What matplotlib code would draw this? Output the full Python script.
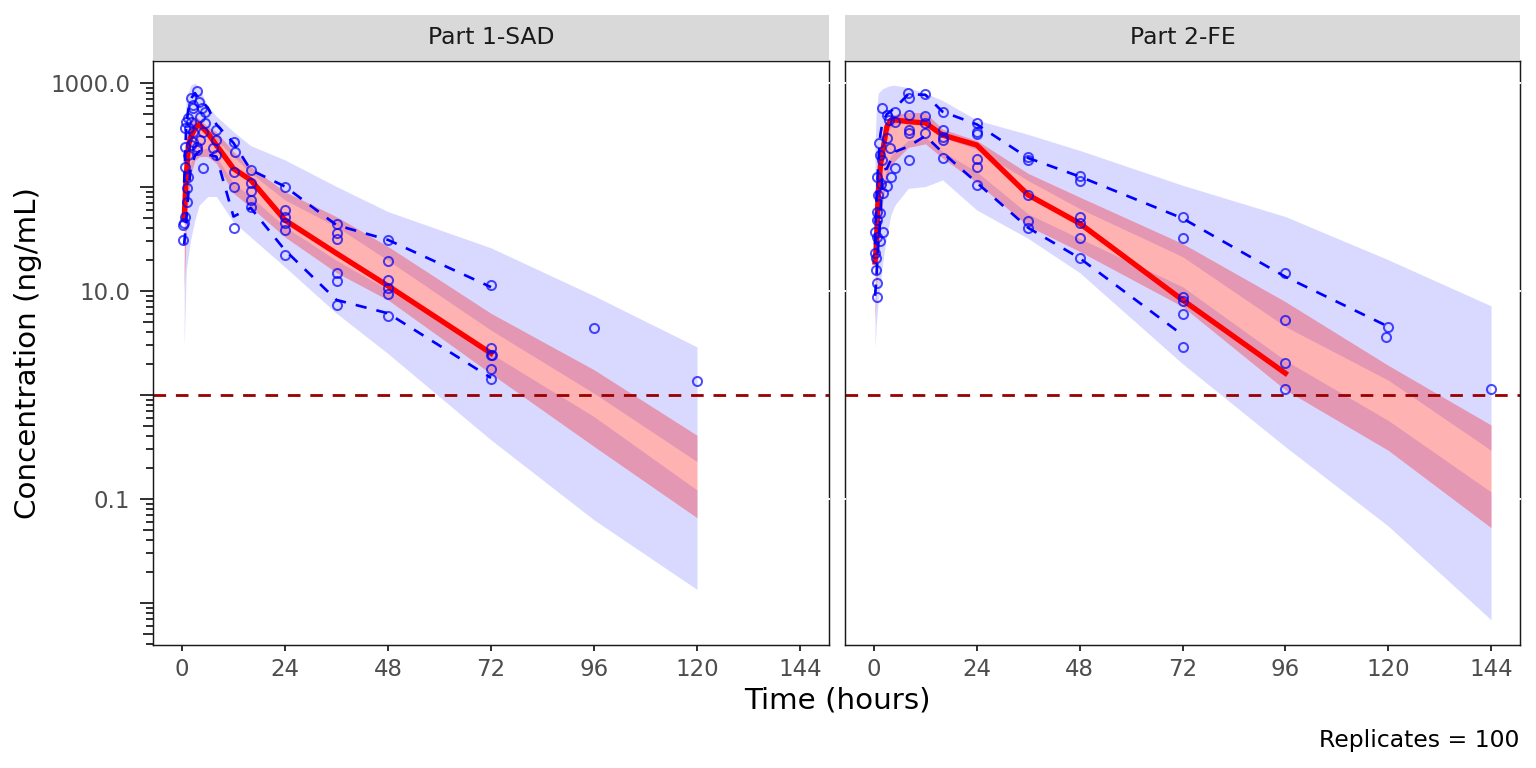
import matplotlib
matplotlib.use("Agg")
import matplotlib.pyplot as plt
from matplotlib.patches import Rectangle
from matplotlib.ticker import FixedLocator, FixedFormatter, NullFormatter

plt.rcParams['font.family'] = ['DejaVu Sans']

# ---------------- data ----------------
panel_titles = ["Part 1-SAD", "Part 2-FE"]
lloq = 1.0
x_ticks = [0, 24, 48, 72, 96, 120, 144]
y_major = [0.01, 0.1, 1, 10, 100, 1000]
y_major_labels = ["", "0.1", "", "10.0", "", "1000.0"]

# Part 1-SAD observed concentrations
sad_obs_time = [3.4, 2.0, 4.0, 2.6, 4.6, 5.4, 1.5, 0.9, 2.0, 4.2, 0.7, 1.7, 5.4, 2.6, 5.0, 8.0,
                4.2, 0.7, 2.0, 3.4, 7.3, 8.0, 1.5, 8.0, 5.0, 0.7, 1.5, 1.1, 1.25, 0.7, 0.3, 0.3,
                0.5, 2.6, 3.4, 2.5,
                12, 12.3, 12, 12.2, 12,
                16, 16, 16, 16, 16,
                24, 24, 24, 24, 24, 24,
                36, 36, 36, 36, 36, 36,
                48, 48, 48, 48, 48, 48,
                72, 72, 72, 72.2, 72, 72,
                96, 120]
sad_obs_conc = [837, 722, 661, 571, 571, 530, 464, 425, 425, 474, 372, 367, 410, 340, 340, 353,
                283, 244, 253, 244, 236, 283, 203, 203, 153, 157, 126, 97, 72, 52, 43, 31,
                45, 273, 227, 614,
                273, 219, 140, 101, 40,
                146, 110, 92, 75, 63.8,
                101, 60.1, 51.1, 44.8, 38.6, 22.2,
                44.1, 35.9, 31.4, 15.0, 12.6, 7.33,
                30.9, 19.5, 12.8, 10.8, 9.36, 5.75,
                11.4, 2.81, 2.43, 2.45, 1.77, 1.43,
                4.40, 1.36]

# Part 1-SAD observed percentiles
sad_line_time = [0.5, 1, 1.5, 2, 3, 4, 6, 8, 12, 16, 24, 36, 48, 72]
sad_obs_p50 = [50, 130, 250, 300, 365, 400, 330, 253, 150, 117, 48, 23, 11.2, 2.52]
sad_obs_p95 = [110, 400, 560, 700, 800, 700, 580, 400, 265, 146, 101, 43, 31, 10.9]
sad_obs_p05 = [28, 48, 90, 150, 200, 220, 205, 196, 52, 63, 24.7, 8.2, 6.1, 1.46]

# Part 1-SAD simulated confidence bands
sad_band_time = [0.5, 1, 2, 3, 4, 6, 8, 12, 16, 24, 36, 48, 72, 96, 120]
sad_p95_hi = [350, 700, 950, 1000, 900, 600, 480, 340, 250, 182, 101, 58, 26, 9.0, 2.9]
sad_p95_lo = [80, 200, 330, 380, 380, 340, 283, 196, 136, 75, 41.5, 19.7, 4.2, 1.04, 0.229]
sad_p50_hi = [130, 300, 450, 480, 450, 380, 340, 219, 157, 90, 51.8, 26.8, 6.1, 1.75, 0.41]
sad_p50_lo = [10, 45, 130, 180, 196, 196, 169, 87, 64, 33, 15, 8.2, 1.6, 0.32, 0.066]
sad_p05_hi = [18, 70, 170, 220, 230, 236, 196, 109, 81, 41.5, 19.7, 10.3, 2.5, 0.62, 0.122]
sad_p05_lo = [2.9, 16, 31, 48, 67, 81, 81, 46, 33, 17, 6.1, 2.5, 0.37, 0.063, 0.0135]

# Part 2-FE observed concentrations
fe_obs_time = [7.9, 12.0, 8.1, 1.9, 5.0, 3.0, 3.4, 5.0, 8.1, 11.8, 8.1, 8.1, 11.8, 11.8, 8.1,
               1.2, 3.0, 1.5, 3.8, 1.9, 5.0, 4.0, 3.0, 0.7, 0.9, 2.0, 0.7, 1.5, 0.7, 0.3, 2.0,
               0.7, 1.5, 0.17, 0.5, 0.5, 0.7, 0.7, 1.7,
               16, 16, 16, 16, 16,
               24, 24, 24, 24, 24, 24,
               36, 36, 36, 36, 36,
               48, 48, 48, 48, 48, 48,
               72, 72, 72, 72, 72, 72,
               96, 96, 96, 96,
               120, 119.6, 144]
fe_obs_conc = [796, 784, 713, 571, 530, 493, 441, 425, 493, 482, 353, 328, 410, 328, 182,
               263, 294, 203, 236, 182, 151, 124, 102, 125, 84, 87, 58, 56, 48, 37, 37,
               33, 30, 23, 20.6, 15.9, 11.9, 8.8, 108,
               530, 353, 305, 283, 189,
               415, 340, 323, 185, 157, 105,
               196, 182, 84, 47.5, 40,
               128, 115, 51.8, 44.8, 32, 20.7,
               51.8, 32, 8.8, 8.0, 6.0, 2.9,
               14.8, 5.3, 2.05, 1.15,
               4.55, 3.6, 1.15]

# Part 2-FE observed percentiles
fe_line_time = [0.25, 0.5, 1, 1.5, 2, 3, 4, 5, 8, 12, 16, 24, 36, 48, 72, 96, 120]
fe_obs_p50 = [19, 25, 87, 160, 218, 380, 441, 441, 425, 413, 316, 253, 83.8, 44.7, 8.2, 1.62]
fe_obs_p95 = [28, 60, 170, 320, 420, 500, 540, 580, 780, 770, 530, 400, 190, 126, 50, 13.7, 4.55]
fe_obs_p05 = [9, 12, 28, 50, 146, 150, 185, 219, 245, 310, 215, 110, 40.5, 20.7, 3.78]

# Part 2-FE simulated confidence bands
fe_band_time = [0.25, 0.5, 1, 2, 3, 4, 5, 8, 12, 16, 24, 36, 48, 72, 96, 120, 144]
fe_p95_hi = [250, 500, 800, 880, 920, 950, 950, 900, 800, 680, 440, 320, 225, 104, 52, 20, 7.2]
fe_p95_lo = [18, 30, 80, 220, 330, 380, 400, 430, 440, 300, 230, 115, 62, 21.4, 4.55, 1.39, 0.294]
fe_p50_hi = [25, 45, 130, 300, 420, 480, 500, 520, 520, 360, 280, 135, 80, 28.6, 7.9, 1.93, 0.515]
fe_p50_lo = [5, 9, 22, 70, 120, 160, 180, 240, 260, 190, 110, 42, 24, 7.1, 1.12, 0.294, 0.053]
fe_p05_hi = [8, 12, 30, 90, 160, 200, 220, 280, 300, 220, 140, 55, 32, 11.0, 2.15, 0.57, 0.117]
fe_p05_lo = [2.8, 4.5, 8, 18, 35, 55, 68, 97, 101, 117, 60, 32, 15, 2.0, 0.318, 0.055, 0.0069]

# ---------------- figure ----------------
W, H = 1536, 768
fig = plt.figure(figsize=(8, 4), dpi=192)

xlim = (-6.76, 150.76)
ylim = (10 ** -2.404, 10 ** 3.2115)

ax_l = fig.add_axes([153 / W, 1 - 645 / H, 676 / W, 584 / H])
ax_r = fig.add_axes([845 / W, 1 - 645 / H, 675 / W, 584 / H])

panels = [
    (ax_l, sad_band_time, sad_p95_hi, sad_p95_lo, sad_p50_hi, sad_p50_lo, sad_p05_hi, sad_p05_lo,
     sad_obs_time, sad_obs_conc, sad_line_time, sad_obs_p50, sad_obs_p95, sad_obs_p05),
    (ax_r, fe_band_time, fe_p95_hi, fe_p95_lo, fe_p50_hi, fe_p50_lo, fe_p05_hi, fe_p05_lo,
     fe_obs_time, fe_obs_conc, fe_line_time, fe_obs_p50, fe_obs_p95, fe_obs_p05),
]

minor_short = [k * 10.0 ** e for e in range(-3, 4) for k in (2, 3, 4, 6, 7, 8, 9)]
minor_mid = [5 * 10.0 ** e for e in range(-3, 4)]

for i, (ax, bt, p95h, p95l, p50h, p50l, p05h, p05l, ot, oc, lt, m50, m95, m05) in enumerate(panels):
    ax.set_yscale('log')
    ax.fill_between(bt, p05l, p05h, color='#0000FF', alpha=0.15, lw=0, zorder=1)
    ax.fill_between(bt, p95l, p95h, color='#0000FF', alpha=0.15, lw=0, zorder=1)
    ax.fill_between(bt, p50l, p50h, color='#FF0000', alpha=0.3, lw=0, zorder=1.2)
    ax.axhline(lloq, color='#9A0000', lw=1.05, dashes=(4.5, 3.5), zorder=2)
    ax.plot(lt[:len(m50)], m50, color='#FF0000', lw=2.0, zorder=3, solid_joinstyle='round')
    ax.plot(lt[:len(m95)], m95, color='#0000FF', lw=1.0, dashes=(4.2, 3.8), zorder=3)
    ax.plot(lt[:len(m05)], m05, color='#0000FF', lw=1.0, dashes=(4.2, 3.8), zorder=3)
    ax.plot(ot, oc, 'o', mfc='none', mec='#0000FF', alpha=0.7, ms=3.4, mew=0.75, zorder=4,
            linestyle='none')

    ax.set_xlim(*xlim)
    ax.set_ylim(*ylim)
    ax.set_facecolor('white')
    for s in ax.spines.values():
        s.set_color('#1A1A1A')
        s.set_linewidth(0.55)

    ax.xaxis.set_major_locator(FixedLocator(x_ticks))
    ax.tick_params(axis='x', which='major', length=2.25, width=0.75, color='#333333',
                   labelsize=8.6, labelcolor='#4D4D4D', pad=2.6)
    ax.tick_params(axis='x', which='minor', bottom=False)

    ax.yaxis.set_major_locator(FixedLocator(y_major))
    ax.yaxis.set_minor_locator(FixedLocator(minor_short))
    ax.yaxis.set_minor_formatter(NullFormatter())
    if i == 0:
        ax.yaxis.set_major_formatter(FixedFormatter(y_major_labels))
        ax.tick_params(axis='y', which='major', length=4.9, width=0.75, color='#333333',
                       labelsize=8.6, labelcolor='#4D4D4D', pad=3.6)
        ax.tick_params(axis='y', which='minor', length=2.6, width=0.75, color='#333333')
        tr = ax.get_yaxis_transform()
        for v in minor_mid:
            if ylim[0] <= v <= ylim[1]:
                ax.plot([-10 / 676, 0], [v, v], transform=tr, color='#333333', lw=0.75,
                        clip_on=False, zorder=5, solid_capstyle='butt')
    else:
        ax.tick_params(axis='y', which='both', left=False, labelleft=False)

    # small breaks in the vertical borders at the labelled breaks
    tr = ax.get_yaxis_transform()
    for v in (0.1, 10, 1000):
        xs = [(0.998, 1.002)] if i == 0 else [(-0.002, 0.002), (0.998, 1.002)]
        for a, b in xs:
            ax.plot([a, b], [v, v], transform=tr, color='white', lw=0.7, clip_on=False,
                    zorder=6, solid_capstyle='butt')

    # strip
    pos = ax.get_position()
    fig.patches.append(Rectangle((pos.x0, 1 - 60 / H), pos.width, 45 / H,
                                 transform=fig.transFigure, facecolor='#D9D9D9',
                                 edgecolor='none', zorder=0))
    fig.text(pos.x0 + pos.width / 2, 1 - 37.5 / H, panel_titles[i], ha='center', va='center',
             fontsize=8.8, color='#1A1A1A')

fig.text(837 / W, 1 - 700 / H, 'Time (hours)', ha='center', va='center', fontsize=11,
         color='black')
fig.text(28 / W, 1 - 353 / H, 'Concentration (ng/mL)', ha='center', va='center', fontsize=11,
         rotation=90, color='black')
fig.text(1519 / W, 1 - 740 / H, 'Replicates = 100', ha='right', va='center', fontsize=8.8,
         color='black')

fig.savefig('out.png', dpi=192, facecolor='white')
